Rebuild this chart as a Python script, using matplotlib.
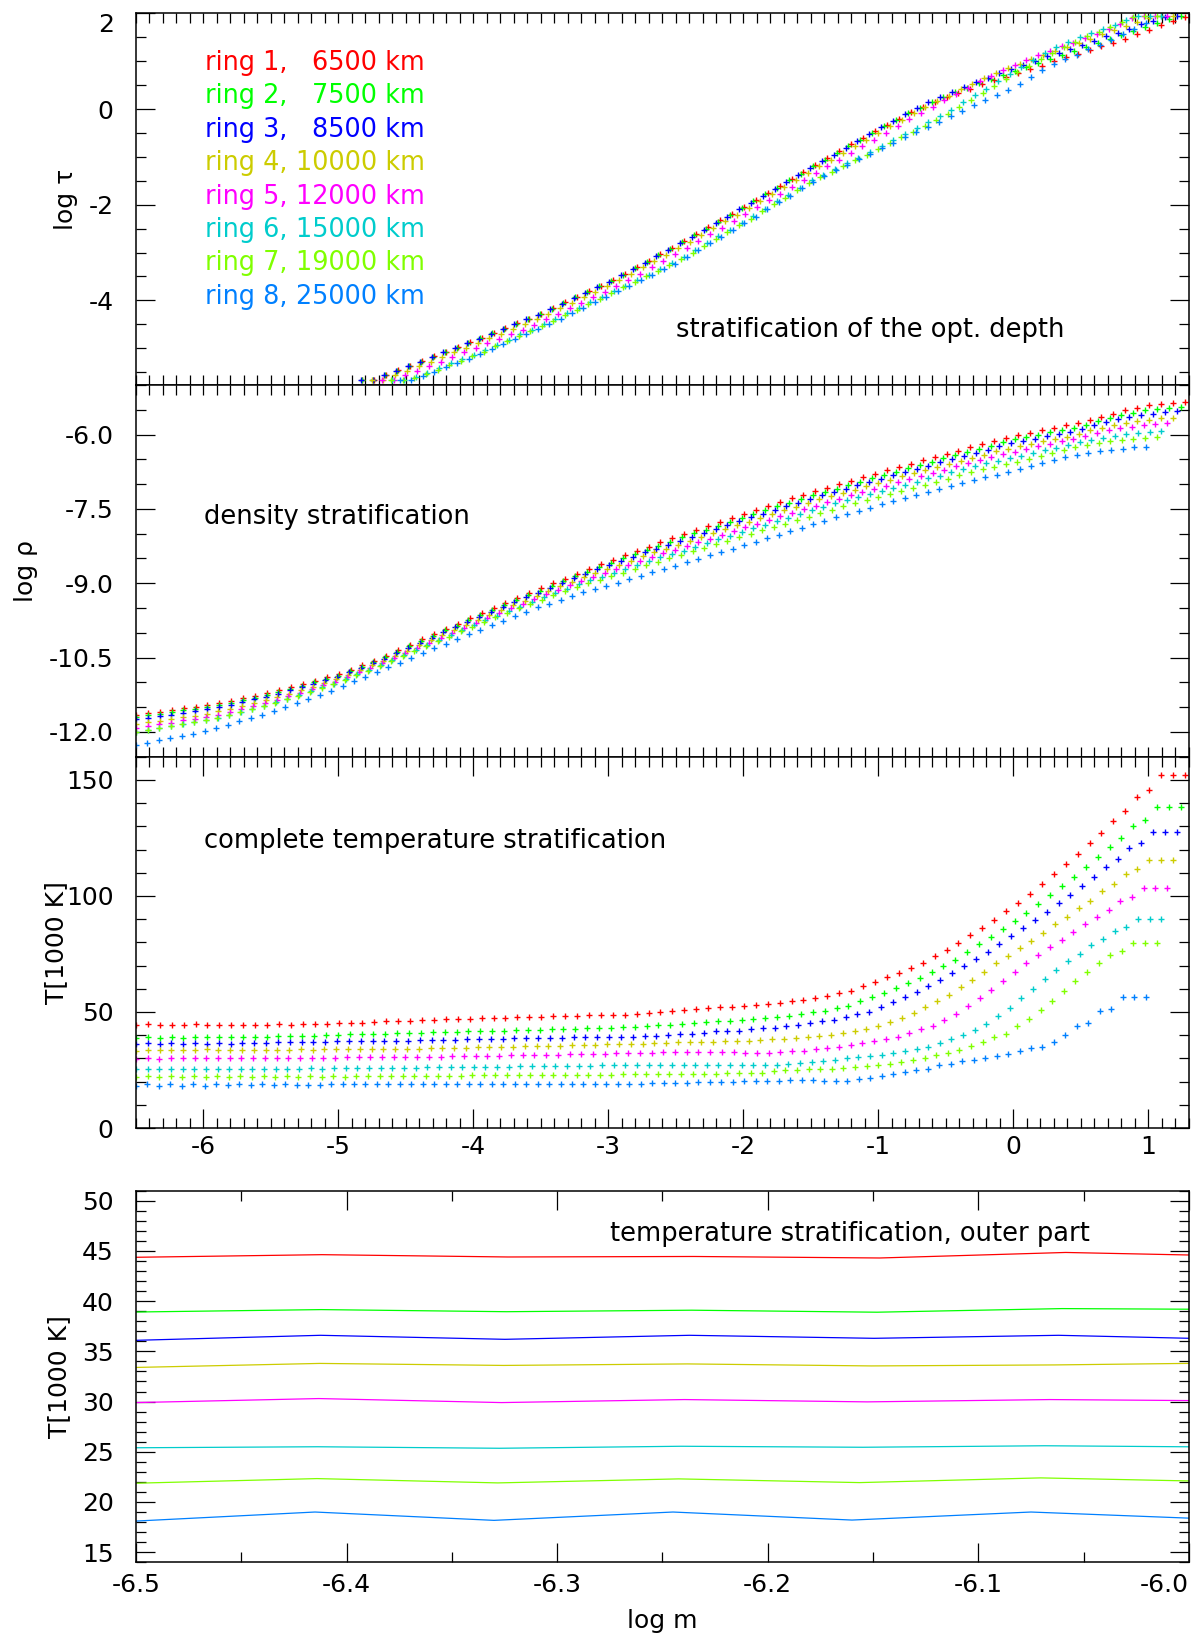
import matplotlib
matplotlib.use('Agg')
import matplotlib.pyplot as plt
from matplotlib.ticker import MultipleLocator, FormatStrFormatter
import numpy as np

plt.rcParams['font.family'] = ['DejaVu Sans']
plt.rcParams['axes.unicode_minus'] = False

# rings of the model
ring_names = ['ring 1,', 'ring 2,', 'ring 3,', 'ring 4,', 'ring 5,', 'ring 6,', 'ring 7,', 'ring 8,']
ring_radii = ['6500 km', '7500 km', '8500 km', '10000 km', '12000 km', '15000 km', '19000 km', '25000 km']
colors = ['#ff0000', '#00ff00', '#0000ff', '#cccc00', '#ff00ff', '#00cccc', '#80ff00', '#0080ff']

# depth grid: equidistant in log m, first and last depth point of each ring
logm_first = -6.5
logm_last = [1.27, 1.24, 1.21, 1.18, 1.138, 1.094, 1.06, 0.98]

# temperature [1000 K], all depth points
temp_1 = [44.37, 44.63, 44.40, 44.45, 44.30, 44.85, 44.47, 44.35, 44.60, 44.40,
          44.60, 44.50, 44.70, 44.60, 44.80, 44.80, 45.00, 45.10, 45.20, 45.40,
          45.60, 45.90, 46.10, 46.30, 46.50, 46.60, 46.80, 46.90, 47.10, 47.20,
          47.40, 47.50, 47.70, 47.80, 48.00, 48.10, 48.30, 48.40, 48.60, 48.70,
          48.70, 48.90, 49.10, 49.40, 49.90, 50.60, 51.00, 51.30, 51.60, 52.00,
          52.30, 52.70, 53.10, 53.40, 53.90, 54.60, 55.30, 55.90, 57.00, 58.10,
          59.10, 61.00, 63.00, 64.90, 66.90, 69.10, 71.30, 74.10, 76.70, 79.60,
          83.00, 86.10, 89.70, 93.30, 97.00, 100.90, 105.00, 109.40, 113.60, 117.90,
          122.60, 127.00, 132.30, 136.60, 142.70, 145.60, 152.00, 152.00, 152.00]
temp_2 = [38.92, 39.16, 38.95, 39.10, 38.90, 39.26, 39.17, 39.10, 39.30, 39.20,
          39.35, 39.40, 39.50, 39.55, 39.70, 39.75, 39.90, 40.10, 40.30, 40.40,
          40.60, 40.70, 40.90, 41.00, 41.10, 41.30, 41.40, 41.50, 41.60, 41.80,
          41.90, 42.00, 42.10, 42.30, 42.40, 42.50, 42.60, 42.80, 42.90, 43.00,
          43.20, 43.40, 43.70, 43.90, 44.20, 44.60, 44.90, 45.30, 45.60, 46.00,
          46.30, 46.70, 47.10, 47.50, 47.90, 48.40, 49.10, 49.80, 50.60, 51.60,
          52.70, 54.90, 56.30, 58.10, 60.20, 62.40, 64.70, 67.30, 69.70, 72.40,
          75.90, 79.10, 82.40, 85.60, 89.10, 92.70, 96.60, 100.30, 104.30, 108.10,
          112.40, 116.60, 121.10, 125.00, 130.10, 132.70, 138.10, 138.10, 138.10]
temp_3 = [36.10, 36.60, 36.20, 36.60, 36.30, 36.60, 36.18, 36.50, 36.40, 36.60,
          36.70, 36.80, 36.90, 36.90, 37.00, 37.00, 37.20, 37.30, 37.30, 37.40,
          37.50, 37.60, 37.70, 37.70, 37.80, 37.90, 38.00, 38.10, 38.20, 38.30,
          38.40, 38.50, 38.60, 38.70, 38.80, 38.90, 39.00, 39.10, 39.20, 39.30,
          39.40, 39.40, 39.40, 39.70, 39.70, 40.10, 40.30, 40.60, 41.00, 41.60,
          41.70, 42.00, 42.60, 42.90, 43.30, 44.10, 44.40, 45.10, 46.30, 46.70,
          48.00, 49.10, 49.90, 52.00, 54.40, 56.30, 58.70, 61.10, 63.90, 66.90,
          69.70, 72.90, 75.90, 79.40, 82.70, 86.30, 89.70, 93.10, 97.00, 100.60,
          104.40, 108.10, 112.60, 115.90, 120.60, 123.00, 127.60, 127.60, 127.60]
temp_4 = [33.40, 33.80, 33.60, 33.75, 33.55, 33.65, 33.86, 33.60, 33.80, 33.70,
          33.80, 33.70, 33.80, 33.80, 33.90, 33.80, 33.90, 33.90, 34.00, 33.90,
          34.00, 34.00, 34.10, 34.10, 34.20, 34.30, 34.40, 34.50, 34.60, 34.70,
          34.80, 34.90, 35.00, 35.20, 35.30, 35.40, 35.50, 35.70, 35.80, 35.90,
          36.00, 36.30, 36.30, 36.40, 36.60, 36.70, 36.90, 37.00, 37.00, 37.00,
          37.30, 37.70, 37.70, 38.00, 38.30, 38.40, 38.70, 39.10, 39.60, 40.10,
          40.90, 41.70, 42.70, 44.10, 45.60, 47.40, 49.60, 52.00, 54.90, 57.40,
          60.60, 63.70, 67.40, 70.90, 74.10, 77.40, 80.60, 84.10, 87.70, 91.10,
          94.60, 98.00, 102.00, 105.10, 109.40, 111.40, 115.60, 115.60, 115.60]
temp_5 = [29.90, 30.30, 29.90, 30.20, 29.97, 30.20, 30.07, 30.20, 30.00, 30.20,
          30.10, 30.20, 30.10, 30.30, 30.20, 30.30, 30.30, 30.30, 30.40, 30.40,
          30.50, 30.50, 30.60, 30.60, 30.70, 30.80, 30.80, 30.90, 31.00, 31.10,
          31.20, 31.20, 31.30, 31.40, 31.50, 31.60, 31.60, 31.70, 31.80, 31.90,
          32.00, 32.30, 32.30, 32.40, 32.40, 32.60, 32.60, 32.60, 32.60, 32.60,
          32.60, 32.60, 32.40, 32.40, 32.30, 32.60, 33.10, 33.40, 34.00, 34.40,
          35.10, 35.90, 36.60, 37.30, 38.40, 39.40, 40.90, 42.70, 44.10, 46.60,
          49.10, 52.40, 56.00, 59.40, 63.40, 67.10, 71.00, 74.60, 78.00, 81.00,
          84.40, 87.70, 91.10, 93.90, 97.70, 99.60, 103.40, 103.40, 103.40]
temp_6 = [25.40, 25.50, 25.35, 25.55, 25.45, 25.60, 25.47, 25.60, 25.50, 25.60,
          25.50, 25.60, 25.60, 25.60, 25.60, 25.70, 25.60, 25.70, 25.70, 25.80,
          25.80, 25.90, 25.90, 25.90, 26.00, 26.10, 26.10, 26.20, 26.30, 26.30,
          26.40, 26.40, 26.50, 26.60, 26.60, 26.70, 26.80, 26.80, 26.90, 26.90,
          27.00, 27.00, 27.00, 27.00, 27.00, 27.10, 27.10, 27.30, 27.30, 27.30,
          27.30, 27.30, 27.30, 27.30, 27.00, 27.00, 27.70, 28.00, 28.40, 28.90,
          29.40, 30.10, 30.60, 31.00, 31.40, 32.30, 33.40, 34.10, 35.10, 36.60,
          38.30, 39.90, 42.30, 44.90, 48.10, 51.70, 55.90, 59.90, 64.10, 68.00,
          72.00, 75.10, 78.90, 81.30, 84.90, 86.70, 89.90, 89.90, 89.90]
temp_7 = [21.87, 22.33, 21.90, 22.30, 21.93, 22.40, 22.03, 22.35, 21.95, 22.35,
          22.00, 22.35, 22.00, 22.35, 22.05, 22.35, 22.10, 22.40, 22.15, 22.45,
          22.20, 22.45, 22.25, 22.50, 22.35, 22.55, 22.45, 22.60, 22.55, 22.65,
          22.65, 22.70, 22.70, 22.80, 22.80, 22.85, 22.90, 22.90, 22.95, 23.00,
          23.00, 23.00, 23.10, 23.10, 23.10, 23.40, 23.40, 23.40, 23.40, 23.40,
          23.40, 23.70, 23.70, 23.90, 23.90, 24.40, 24.90, 25.10, 25.30, 25.60,
          25.60, 26.00, 26.30, 26.70, 27.00, 27.70, 28.40, 29.40, 30.30, 31.30,
          32.40, 33.70, 35.30, 37.00, 39.10, 40.60, 43.90, 47.00, 50.90, 54.60,
          59.10, 63.40, 67.40, 70.90, 74.40, 76.30, 79.60, 79.60, 79.60]
temp_8 = [18.10, 19.00, 18.17, 19.00, 18.20, 19.00, 18.31, 18.95, 18.40, 18.90,
          18.50, 18.85, 18.60, 18.80, 18.70, 18.75, 18.75, 18.80, 18.80, 18.80,
          18.85, 18.85, 18.85, 18.90, 18.90, 18.90, 18.90, 18.95, 18.95, 18.95,
          19.00, 19.00, 19.00, 19.00, 19.00, 19.05, 19.05, 19.05, 19.10, 19.10,
          19.10, 19.10, 19.10, 19.10, 19.10, 19.40, 19.40, 19.60, 19.60, 19.70,
          19.70, 19.90, 20.00, 20.10, 20.30, 20.30, 20.40, 20.60, 20.60, 20.60,
          20.30, 20.30, 20.30, 21.00, 21.70, 22.60, 23.40, 24.10, 24.90, 25.60,
          27.10, 27.40, 28.70, 29.10, 30.30, 31.10, 32.00, 33.00, 34.60, 35.10,
          37.00, 39.90, 43.90, 45.30, 50.60, 51.30, 56.30, 56.30, 56.30]

# log rho, all depth points
rho_1 = [-11.65, -11.62, -11.59, -11.56, -11.52, -11.49, -11.46, -11.42, -11.37, -11.32,
         -11.27, -11.22, -11.16, -11.10, -11.04, -10.97, -10.90, -10.84, -10.75, -10.66,
         -10.56, -10.46, -10.35, -10.24, -10.13, -10.03, -9.92, -9.82, -9.71, -9.61,
         -9.50, -9.40, -9.30, -9.20, -9.10, -9.00, -8.91, -8.81, -8.72, -8.62,
         -8.53, -8.44, -8.35, -8.26, -8.17, -8.09, -8.00, -7.92, -7.84, -7.76,
         -7.68, -7.60, -7.52, -7.45, -7.37, -7.29, -7.22, -7.14, -7.07, -7.00,
         -6.93, -6.86, -6.79, -6.72, -6.66, -6.59, -6.52, -6.46, -6.39, -6.33,
         -6.26, -6.20, -6.14, -6.07, -6.01, -5.96, -5.91, -5.86, -5.81, -5.77,
         -5.71, -5.64, -5.58, -5.51, -5.46, -5.41, -5.39, -5.36, -5.34]
rho_2 = [-11.69, -11.66, -11.63, -11.60, -11.56, -11.53, -11.50, -11.46, -11.41, -11.36,
         -11.31, -11.25, -11.19, -11.13, -11.07, -11.00, -10.93, -10.87, -10.78, -10.69,
         -10.59, -10.49, -10.38, -10.27, -10.16, -10.06, -9.95, -9.86, -9.75, -9.65,
         -9.54, -9.44, -9.34, -9.24, -9.15, -9.05, -8.96, -8.86, -8.77, -8.67,
         -8.59, -8.50, -8.41, -8.33, -8.24, -8.16, -8.07, -7.99, -7.92, -7.84,
         -7.76, -7.68, -7.60, -7.53, -7.45, -7.38, -7.31, -7.23, -7.16, -7.09,
         -7.02, -6.95, -6.88, -6.81, -6.75, -6.68, -6.61, -6.55, -6.48, -6.42,
         -6.35, -6.29, -6.23, -6.16, -6.10, -6.05, -6.00, -5.95, -5.90, -5.86,
         -5.80, -5.73, -5.67, -5.61, -5.56, -5.51, -5.49, -5.46, -5.44]
rho_3 = [-11.74, -11.71, -11.68, -11.65, -11.61, -11.57, -11.54, -11.50, -11.45, -11.39,
         -11.34, -11.29, -11.23, -11.16, -11.10, -11.03, -10.96, -10.89, -10.80, -10.71,
         -10.62, -10.52, -10.41, -10.30, -10.20, -10.10, -9.99, -9.89, -9.78, -9.68,
         -9.58, -9.48, -9.38, -9.28, -9.19, -9.09, -9.00, -8.90, -8.82, -8.72,
         -8.64, -8.55, -8.47, -8.38, -8.30, -8.22, -8.14, -8.06, -7.98, -7.90,
         -7.83, -7.75, -7.67, -7.60, -7.52, -7.45, -7.38, -7.30, -7.23, -7.16,
         -7.09, -7.02, -6.95, -6.89, -6.82, -6.76, -6.69, -6.63, -6.56, -6.50,
         -6.43, -6.37, -6.31, -6.24, -6.18, -6.13, -6.08, -6.03, -5.98, -5.94,
         -5.88, -5.81, -5.75, -5.69, -5.64, -5.60, -5.58, -5.55, -5.53]
rho_4 = [-11.85, -11.81, -11.78, -11.74, -11.70, -11.67, -11.63, -11.58, -11.53, -11.47,
         -11.41, -11.36, -11.29, -11.23, -11.16, -11.09, -11.01, -10.94, -10.85, -10.76,
         -10.66, -10.56, -10.46, -10.36, -10.25, -10.15, -10.04, -9.94, -9.84, -9.74,
         -9.64, -9.54, -9.44, -9.35, -9.25, -9.15, -9.06, -8.97, -8.88, -8.79,
         -8.71, -8.63, -8.55, -8.46, -8.38, -8.30, -8.22, -8.14, -8.07, -7.99,
         -7.91, -7.83, -7.76, -7.69, -7.61, -7.53, -7.46, -7.38, -7.31, -7.24,
         -7.17, -7.11, -7.04, -6.97, -6.91, -6.84, -6.78, -6.72, -6.65, -6.59,
         -6.53, -6.47, -6.41, -6.34, -6.29, -6.24, -6.19, -6.13, -6.08, -6.04,
         -5.98, -5.91, -5.86, -5.80, -5.76, -5.72, -5.70, -5.67, -5.66]
rho_5 = [-11.93, -11.89, -11.85, -11.82, -11.77, -11.74, -11.70, -11.65, -11.59, -11.53,
         -11.47, -11.41, -11.35, -11.28, -11.21, -11.14, -11.06, -10.99, -10.89, -10.80,
         -10.71, -10.61, -10.51, -10.41, -10.30, -10.20, -10.10, -10.00, -9.90, -9.80,
         -9.70, -9.60, -9.51, -9.41, -9.32, -9.22, -9.14, -9.04, -8.96, -8.87,
         -8.80, -8.72, -8.64, -8.56, -8.48, -8.40, -8.32, -8.25, -8.17, -8.10,
         -8.02, -7.95, -7.87, -7.80, -7.73, -7.65, -7.58, -7.51, -7.44, -7.37,
         -7.30, -7.23, -7.16, -7.09, -7.03, -6.96, -6.90, -6.84, -6.77, -6.71,
         -6.64, -6.58, -6.52, -6.46, -6.40, -6.35, -6.30, -6.24, -6.19, -6.14,
         -6.08, -6.02, -5.97, -5.91, -5.87, -5.84, -5.81, -5.78, -5.77]
rho_6 = [-12.00, -11.96, -11.92, -11.89, -11.84, -11.80, -11.76, -11.71, -11.65, -11.59,
         -11.53, -11.47, -11.40, -11.33, -11.26, -11.18, -11.10, -11.03, -10.93, -10.84,
         -10.75, -10.65, -10.55, -10.45, -10.35, -10.25, -10.14, -10.05, -9.94, -9.85,
         -9.75, -9.66, -9.56, -9.47, -9.37, -9.28, -9.20, -9.11, -9.02, -8.94,
         -8.87, -8.79, -8.72, -8.64, -8.56, -8.48, -8.41, -8.34, -8.26, -8.19,
         -8.11, -8.04, -7.97, -7.89, -7.82, -7.75, -7.68, -7.60, -7.53, -7.46,
         -7.39, -7.32, -7.26, -7.20, -7.14, -7.07, -7.01, -6.95, -6.88, -6.83,
         -6.76, -6.70, -6.64, -6.58, -6.53, -6.48, -6.43, -6.37, -6.32, -6.27,
         -6.21, -6.15, -6.11, -6.06, -6.02, -5.99, -5.97, -5.94, -5.93]
rho_7 = [-12.00, -11.96, -11.92, -11.89, -11.85, -11.81, -11.77, -11.71, -11.66, -11.60,
         -11.54, -11.48, -11.41, -11.34, -11.27, -11.20, -11.12, -11.04, -10.95, -10.86,
         -10.77, -10.67, -10.57, -10.47, -10.37, -10.27, -10.17, -10.08, -9.97, -9.88,
         -9.79, -9.69, -9.60, -9.51, -9.42, -9.33, -9.24, -9.16, -9.08, -9.00,
         -8.93, -8.86, -8.79, -8.71, -8.64, -8.57, -8.50, -8.43, -8.36, -8.29,
         -8.21, -8.14, -8.07, -8.01, -7.93, -7.86, -7.80, -7.73, -7.66, -7.59,
         -7.52, -7.45, -7.38, -7.32, -7.26, -7.20, -7.14, -7.08, -7.01, -6.95,
         -6.89, -6.82, -6.76, -6.70, -6.65, -6.60, -6.55, -6.49, -6.43, -6.38,
         -6.32, -6.26, -6.22, -6.17, -6.14, -6.12, -6.09, -6.06, -6.05]
rho_8 = [-12.26, -12.22, -12.17, -12.13, -12.08, -12.04, -11.99, -11.92, -11.86, -11.79,
         -11.72, -11.65, -11.58, -11.50, -11.42, -11.34, -11.25, -11.17, -11.07, -10.98,
         -10.89, -10.79, -10.70, -10.61, -10.51, -10.41, -10.31, -10.22, -10.12, -10.03,
         -9.94, -9.85, -9.76, -9.67, -9.58, -9.49, -9.41, -9.33, -9.25, -9.18,
         -9.12, -9.06, -8.99, -8.92, -8.85, -8.78, -8.72, -8.65, -8.58, -8.51,
         -8.44, -8.37, -8.30, -8.23, -8.16, -8.09, -8.02, -7.95, -7.88, -7.81,
         -7.74, -7.67, -7.60, -7.54, -7.48, -7.41, -7.35, -7.29, -7.22, -7.16,
         -7.10, -7.03, -6.97, -6.91, -6.86, -6.81, -6.75, -6.69, -6.63, -6.57,
         -6.51, -6.45, -6.41, -6.37, -6.34, -6.32, -6.29, -6.26, -6.25]

# log tau, innermost depth points only (values at the frame edge as drawn)
tau_1 = [-5.66, -5.66, -5.56, -5.46, -5.37, -5.27, -5.17, -5.07, -4.98, -4.88,
         -4.78, -4.68, -4.58, -4.48, -4.38, -4.28, -4.16, -4.04, -3.93, -3.81,
         -3.69, -3.57, -3.44, -3.30, -3.17, -3.03, -2.90, -2.76, -2.62, -2.47,
         -2.33, -2.19, -2.05, -1.90, -1.75, -1.61, -1.46, -1.31, -1.17, -1.03,
         -0.88, -0.74, -0.60, -0.46, -0.33, -0.20, -0.07, 0.04, 0.15, 0.25,
         0.34, 0.43, 0.52, 0.60, 0.67, 0.75, 0.83, 0.91, 1.00, 1.08,
         1.16, 1.24, 1.32, 1.39, 1.47, 1.56, 1.65, 1.75, 1.84, 1.93]
tau_2 = [-5.66, -5.66, -5.56, -5.47, -5.38, -5.28, -5.18, -5.08, -4.99, -4.89,
         -4.79, -4.69, -4.59, -4.49, -4.39, -4.29, -4.18, -4.06, -3.94, -3.83,
         -3.71, -3.59, -3.46, -3.33, -3.19, -3.06, -2.92, -2.79, -2.64, -2.50,
         -2.36, -2.22, -2.07, -1.93, -1.78, -1.64, -1.49, -1.35, -1.20, -1.06,
         -0.92, -0.78, -0.64, -0.50, -0.36, -0.22, -0.09, 0.03, 0.14, 0.26,
         0.35, 0.45, 0.54, 0.63, 0.71, 0.80, 0.88, 0.97, 1.05, 1.13,
         1.21, 1.29, 1.38, 1.46, 1.55, 1.63, 1.72, 1.80, 1.89, 1.95]
tau_3 = [-5.66, -5.66, -5.57, -5.48, -5.38, -5.29, -5.19, -5.09, -5.00, -4.90,
         -4.80, -4.70, -4.60, -4.50, -4.40, -4.30, -4.19, -4.08, -3.96, -3.85,
         -3.73, -3.61, -3.48, -3.35, -3.21, -3.08, -2.95, -2.81, -2.67, -2.53,
         -2.39, -2.25, -2.10, -1.96, -1.81, -1.67, -1.52, -1.38, -1.23, -1.09,
         -0.95, -0.81, -0.67, -0.53, -0.37, -0.24, -0.11, 0.02, 0.14, 0.25,
         0.36, 0.46, 0.57, 0.66, 0.75, 0.83, 0.92, 1.01, 1.10, 1.18,
         1.26, 1.35, 1.43, 1.52, 1.60, 1.68, 1.77, 1.85, 1.93, 1.95]
tau_4 = [-5.66, -5.66, -5.56, -5.47, -5.38, -5.28, -5.18, -5.09, -4.99, -4.89,
         -4.79, -4.70, -4.59, -4.50, -4.40, -4.29, -4.17, -4.06, -3.94, -3.83,
         -3.71, -3.58, -3.45, -3.31, -3.18, -3.05, -2.91, -2.77, -2.63, -2.49,
         -2.35, -2.21, -2.06, -1.92, -1.77, -1.63, -1.48, -1.34, -1.20, -1.06,
         -0.92, -0.78, -0.64, -0.50, -0.36, -0.22, -0.08, 0.04, 0.16, 0.28,
         0.41, 0.53, 0.64, 0.75, 0.85, 0.95, 1.04, 1.13, 1.22, 1.30,
         1.38, 1.47, 1.56, 1.65, 1.73, 1.82, 1.90, 1.95, 1.95]
tau_5 = [-5.66, -5.66, -5.57, -5.48, -5.38, -5.29, -5.19, -5.09, -5.00, -4.90,
         -4.80, -4.70, -4.61, -4.51, -4.40, -4.29, -4.17, -4.06, -3.94, -3.83,
         -3.70, -3.57, -3.44, -3.31, -3.17, -3.04, -2.90, -2.76, -2.62, -2.48,
         -2.34, -2.20, -2.05, -1.91, -1.77, -1.62, -1.48, -1.34, -1.20, -1.06,
         -0.92, -0.78, -0.64, -0.50, -0.36, -0.21, -0.08, 0.05, 0.18, 0.32,
         0.45, 0.58, 0.70, 0.82, 0.93, 1.03, 1.13, 1.22, 1.31, 1.39,
         1.48, 1.58, 1.67, 1.77, 1.90, 1.95, 1.95, 1.95]
tau_6 = [-5.66, -5.66, -5.60, -5.51, -5.42, -5.32, -5.23, -5.14, -5.03, -4.93,
         -4.82, -4.71, -4.61, -4.50, -4.39, -4.27, -4.16, -4.04, -3.92, -3.81,
         -3.69, -3.57, -3.46, -3.34, -3.22, -3.09, -2.95, -2.80, -2.66, -2.52,
         -2.38, -2.23, -2.08, -1.93, -1.79, -1.64, -1.49, -1.37, -1.25, -1.13,
         -1.02, -0.90, -0.78, -0.65, -0.53, -0.40, -0.27, -0.15, -0.01, 0.14,
         0.29, 0.43, 0.58, 0.73, 0.88, 1.03, 1.17, 1.29, 1.40, 1.51,
         1.59, 1.68, 1.76, 1.87, 1.95, 1.95, 1.95]
tau_7 = [-5.66, -5.66, -5.63, -5.54, -5.45, -5.36, -5.26, -5.17, -5.07, -4.96,
         -4.86, -4.75, -4.65, -4.54, -4.43, -4.31, -4.20, -4.08, -3.97, -3.85,
         -3.73, -3.62, -3.50, -3.38, -3.27, -3.14, -3.00, -2.86, -2.72, -2.58,
         -2.43, -2.29, -2.14, -1.99, -1.85, -1.70, -1.55, -1.43, -1.31, -1.19,
         -1.07, -0.95, -0.83, -0.71, -0.59, -0.47, -0.35, -0.23, -0.10, 0.05,
         0.19, 0.33, 0.48, 0.62, 0.77, 0.90, 1.04, 1.17, 1.29, 1.41,
         1.52, 1.61, 1.71, 1.82, 1.93, 1.95, 1.95]
tau_8 = [-5.66, -5.66, -5.59, -5.49, -5.40, -5.31, -5.22, -5.12, -5.02, -4.91,
         -4.81, -4.70, -4.60, -4.49, -4.38, -4.26, -4.15, -4.03, -3.92, -3.80,
         -3.69, -3.57, -3.46, -3.34, -3.23, -3.09, -2.95, -2.81, -2.67, -2.53,
         -2.39, -2.25, -2.10, -1.95, -1.81, -1.66, -1.52, -1.40, -1.28, -1.17,
         -1.05, -0.93, -0.82, -0.70, -0.59, -0.48, -0.37, -0.26, -0.15, -0.03,
         0.09, 0.20, 0.30, 0.40, 0.53, 0.67, 0.82, 0.94, 1.04, 1.14,
         1.25, 1.35, 1.45, 1.56, 1.68, 1.80]

temps = [temp_1, temp_2, temp_3, temp_4, temp_5, temp_6, temp_7, temp_8]
rhos = [rho_1, rho_2, rho_3, rho_4, rho_5, rho_6, rho_7, rho_8]
taus = [tau_1, tau_2, tau_3, tau_4, tau_5, tau_6, tau_7, tau_8]
logm = [np.linspace(logm_first, last, len(t)) for last, t in zip(logm_last, temps)]

FS = 18       # tick labels, axis labels
FT = 18.5     # panel captions
FL = 18.4     # ring legend
fig = plt.figure(figsize=(12, 16.41), dpi=100)
L, W = 0.1133, 0.8775
ax1 = fig.add_axes([L, 0.7654, W, 0.2264])
ax2 = fig.add_axes([L, 0.5389, W, 0.2265])
ax3 = fig.add_axes([L, 0.3126, W, 0.2263])
ax4 = fig.add_axes([L, 0.0480, W, 0.2264])

mk = dict(marker='+', ls='none', ms=4.5, mew=1.0)
for k in range(8):
    x = logm[k]
    xt = x[len(x) - len(taus[k]):]
    ax1.plot(xt, taus[k], color=colors[k], clip_on=False, **mk)
    ax2.plot(x, rhos[k], color=colors[k], **mk)
    ax3.plot(x, temps[k], color=colors[k], **mk)
    ax4.plot(x, temps[k], color=colors[k], lw=0.9)

for ax in (ax1, ax2, ax3, ax4):
    for s in ax.spines.values():
        s.set_linewidth(1.1)
    ax.tick_params(which='both', direction='in', top=True, right=True,
                   width=0.9, labelsize=FS, pad=16)
    ax.tick_params(which='major', length=13.5)
    ax.tick_params(which='minor', length=7.2)

for ax in (ax1, ax2, ax3):
    ax.set_xlim(-6.5, 1.3)

for ax in (ax1, ax2):
    ax.xaxis.set_major_locator(MultipleLocator(0.1))
    ax.tick_params(axis='x', which='major', length=7.2, labelbottom=False)

# panel 1: optical depth
ax1.set_ylim(-5.77, 2.0)
ax1.set_yticks([-4, -2, 0, 2])
ax1.yaxis.set_minor_locator(MultipleLocator(0.5))
ax1.set_ylabel('log τ', fontsize=FS)
ax1.yaxis.set_label_coords(-0.0546, 0.5)
ax1.yaxis.get_major_ticks()[-1].label1.set_verticalalignment('top')
ax1.text(0.513, 0.129, 'stratification of the opt. depth', transform=ax1.transAxes,
         fontsize=FT, va='baseline')
for k in range(8):
    yy = 0.848 - k * 0.0899
    ax1.text(0.0652, yy, ring_names[k], color=colors[k], fontsize=FL,
             transform=ax1.transAxes, va='baseline')
    ax1.text(0.2745, yy, ring_radii[k], color=colors[k], fontsize=FL,
             transform=ax1.transAxes, va='baseline', ha='right')

# panel 2: density
ax2.set_ylim(-12.5, -5.0)
ax2.set_yticks([-12, -10.5, -9, -7.5, -6])
ax2.yaxis.set_major_formatter(FormatStrFormatter('%.1f'))
ax2.yaxis.set_minor_locator(MultipleLocator(0.5))
ax2.set_ylabel('log ρ', fontsize=FS)
ax2.yaxis.set_label_coords(-0.0928, 0.5)
ax2.text(0.0646, 0.626, 'density stratification', transform=ax2.transAxes,
         fontsize=FT, va='baseline')

# panel 3: complete temperature
ax3.set_ylim(0, 160)
ax3.yaxis.set_major_locator(MultipleLocator(50))
ax3.yaxis.set_minor_locator(MultipleLocator(10))
ax3.set_xticks([-6, -5, -4, -3, -2, -1, 0, 1])
ax3.xaxis.set_minor_locator(MultipleLocator(0.1))
ax3.tick_params(axis='x', which='both', pad=5)
ax3.set_ylabel('T[1000 K]', fontsize=FS)
ax3.yaxis.set_label_coords(-0.064, 0.5)
ax3.text(0.0646, 0.754, 'complete temperature stratification', transform=ax3.transAxes,
         fontsize=FT, va='baseline')

# panel 4: outer part of temperature
ax4.set_xlim(-6.5, -6.0)
ax4.set_ylim(14, 51)
ax4.set_xticks([-6.5, -6.4, -6.3, -6.2, -6.1, -6.0])
ax4.xaxis.set_minor_locator(MultipleLocator(0.05))
ax4.xaxis.set_major_formatter(FormatStrFormatter('%.1f'))
ax4.xaxis.get_major_ticks()[-1].label1.set_horizontalalignment('right')
ax4.yaxis.set_major_locator(MultipleLocator(5))
ax4.yaxis.set_minor_locator(MultipleLocator(1))
ax4.tick_params(axis='x', which='both', pad=8)
ax4.set_ylabel('T[1000 K]', fontsize=FS)
ax4.yaxis.set_label_coords(-0.0619, 0.5)
ax4.set_xlabel('log m', fontsize=FS)
ax4.xaxis.set_label_coords(0.5, -0.125)
ax4.text(0.450, 0.865, 'temperature stratification, outer part', transform=ax4.transAxes,
         fontsize=FT, va='baseline')

fig.savefig('out.png', dpi=100)
